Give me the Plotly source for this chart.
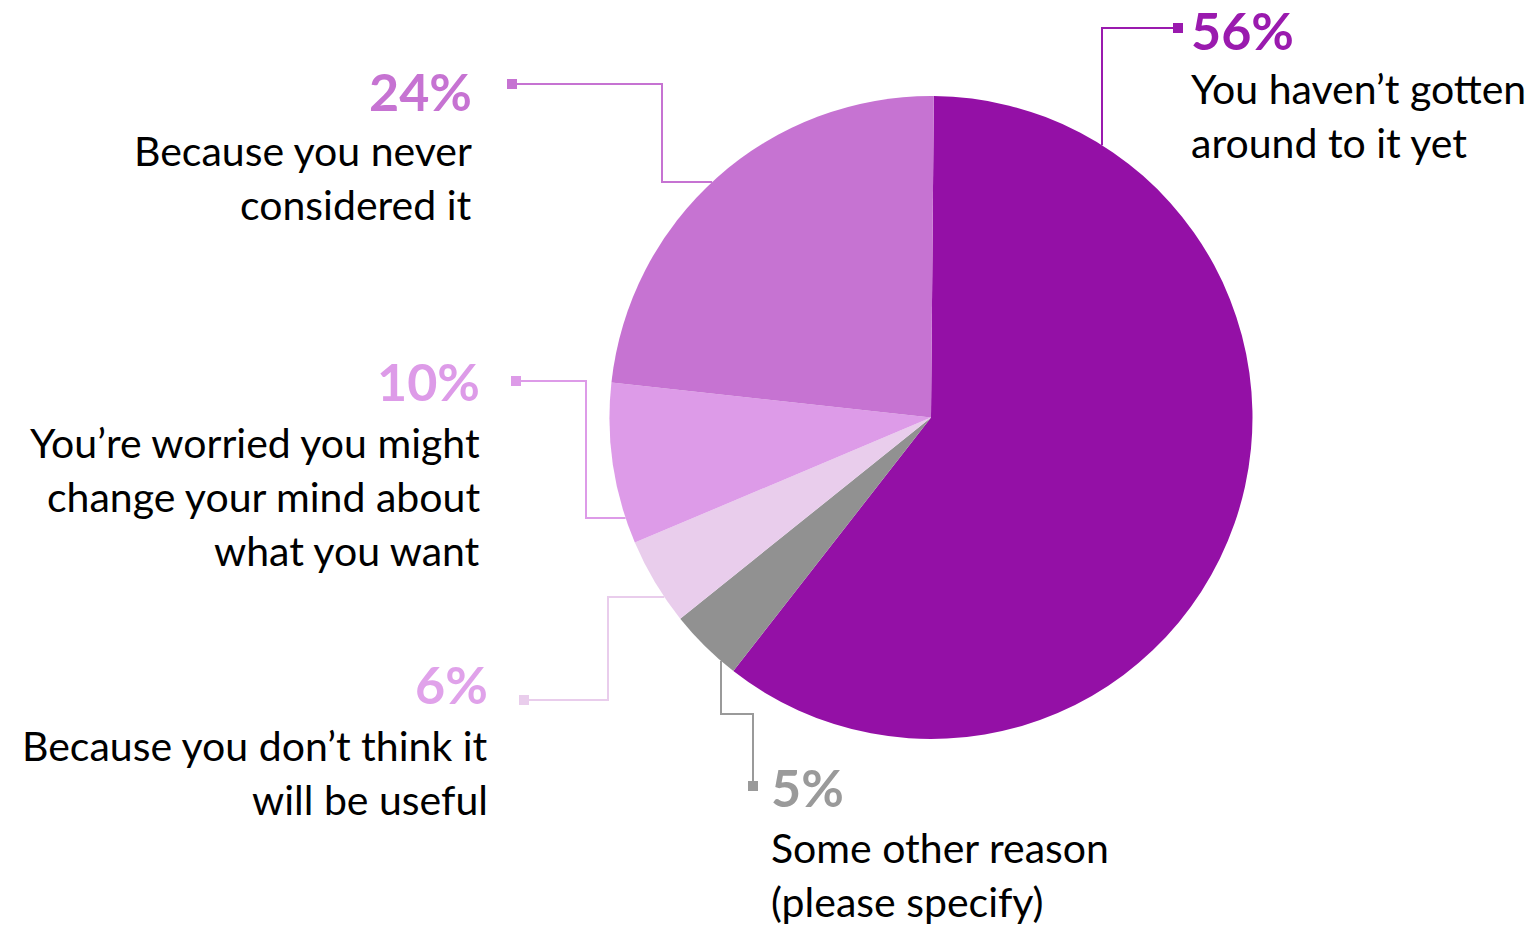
import plotly.graph_objects as go
import math

# ---------------- data ----------------
categories = [
    "You haven’t gotten around to it yet",
    "Some other reason (please specify)",
    "Because you don’t think it will be useful",
    "You’re worried you might change your mind about what you want",
    "Because you never considered it",
]
slice_values = [60.4, 3.7, 4.4, 8.1, 23.4]          # slice sizes as drawn
percent_labels = ["56%", "5%", "6%", "10%", "24%"]   # printed labels
label_lines = [
    ["You haven’t gotten", "around to it yet"],
    ["Some other reason", "(please specify)"],
    ["Because you don’t think it", "will be useful"],
    ["You’re worried you might", "change your mind about", "what you want"],
    ["Because you never", "considered it"],
]

# ---------------- style ----------------
slice_colors = ["#9410A6", "#919191", "#E9CDEC", "#DD9BE8", "#C673D2"]
pct_colors = ["#9A1AAE", "#9A9A9A", "#E0A2EA", "#DD9BE8", "#C673D2"]
line_colors = ["#9A1AAE", "#9A9A9A", "#E9CDEC", "#DD9BE8", "#C673D2"]

W, H = 1536, 927
CX, CY, R = 931, 417.5, 321.5

FONT = "Lato"
BODY_SIZE = 41
PCT_SIZE = 52
LINE_GAP = 54

# connector layout (pixel space): attach spec, bend points, square, text block
layout_spec = [
    dict(attach=("x", 1102, -1), path=[(1102, 28), (1178, 28)], sq=(1178, 28),
         tx=1189, anchor="left", pct_base=50, first_base=104),
    dict(attach=("x", 721, 1), path=[(721, 714), (753, 714), (753, 786)], sq=(753, 786),
         tx=769, anchor="left", pct_base=807, first_base=863),
    dict(attach=("y", 597, -1), path=[(608, 597), (608, 700), (524, 700)], sq=(524, 700),
         tx=490, anchor="right", pct_base=704, first_base=761),
    dict(attach=("y", 518, -1), path=[(586, 518), (586, 381), (516, 381)], sq=(516, 381),
         tx=482, anchor="right", pct_base=401, first_base=458),
    dict(attach=("y", 182, -1), path=[(662, 182), (662, 84), (512, 84)], sq=(512, 84),
         tx=474, anchor="right", pct_base=111, first_base=166),
]


def edge_point(spec):
    kind, v, sgn = spec
    if kind == "x":
        d = math.sqrt(max(R * R - (v - CX) ** 2, 0))
        return (v, CY + sgn * d)
    d = math.sqrt(max(R * R - (v - CY) ** 2, 0))
    return (CX + sgn * d, v)


fig = go.Figure()

fig.add_trace(go.Pie(
    labels=categories,
    values=slice_values,
    sort=False,
    direction="clockwise",
    rotation=0.5,
    marker=dict(colors=slice_colors, line=dict(width=0)),
    textinfo="none",
    hoverinfo="skip",
    showlegend=False,
    domain=dict(x=[(CX - R) / W, (CX + R) / W], y=[1 - (CY + R) / H, 1 - (CY - R) / H]),
))

shapes = []
annotations = []
for i, spec in enumerate(layout_spec):
    pts = [edge_point(spec["attach"])] + spec["path"]
    path = "M " + " L ".join(f"{x},{y}" for x, y in pts)
    shapes.append(dict(type="path", xref="x", yref="y", path=path,
                       line=dict(color=line_colors[i], width=2)))
    sx, sy = spec["sq"]
    shapes.append(dict(type="rect", xref="x", yref="y", x0=sx - 5, x1=sx + 5,
                       y0=sy - 5, y1=sy + 5, fillcolor=line_colors[i],
                       line=dict(width=0)))
    annotations.append(dict(
        x=spec["tx"], y=spec["pct_base"] - 0.387 * PCT_SIZE, xref="x", yref="y",
        text=f"<b>{percent_labels[i]}</b>", showarrow=False,
        xanchor=spec["anchor"], yanchor="middle",
        font=dict(family=FONT, size=PCT_SIZE, color=pct_colors[i])))
    for j, ln in enumerate(label_lines[i]):
        base = spec["first_base"] + j * LINE_GAP
        annotations.append(dict(
            x=spec["tx"], y=base - 0.387 * BODY_SIZE, xref="x", yref="y",
            text=ln, showarrow=False,
            xanchor=spec["anchor"], yanchor="middle",
            font=dict(family=FONT, size=BODY_SIZE, color="#000000")))

fig.update_layout(
    width=W, height=H,
    margin=dict(l=0, r=0, t=0, b=0),
    paper_bgcolor="white", plot_bgcolor="white",
    xaxis=dict(range=[0, W], visible=False, domain=[0, 1], fixedrange=True),
    yaxis=dict(range=[H, 0], visible=False, domain=[0, 1], fixedrange=True),
    shapes=shapes,
    annotations=annotations,
)

fig.write_html("out.html")
